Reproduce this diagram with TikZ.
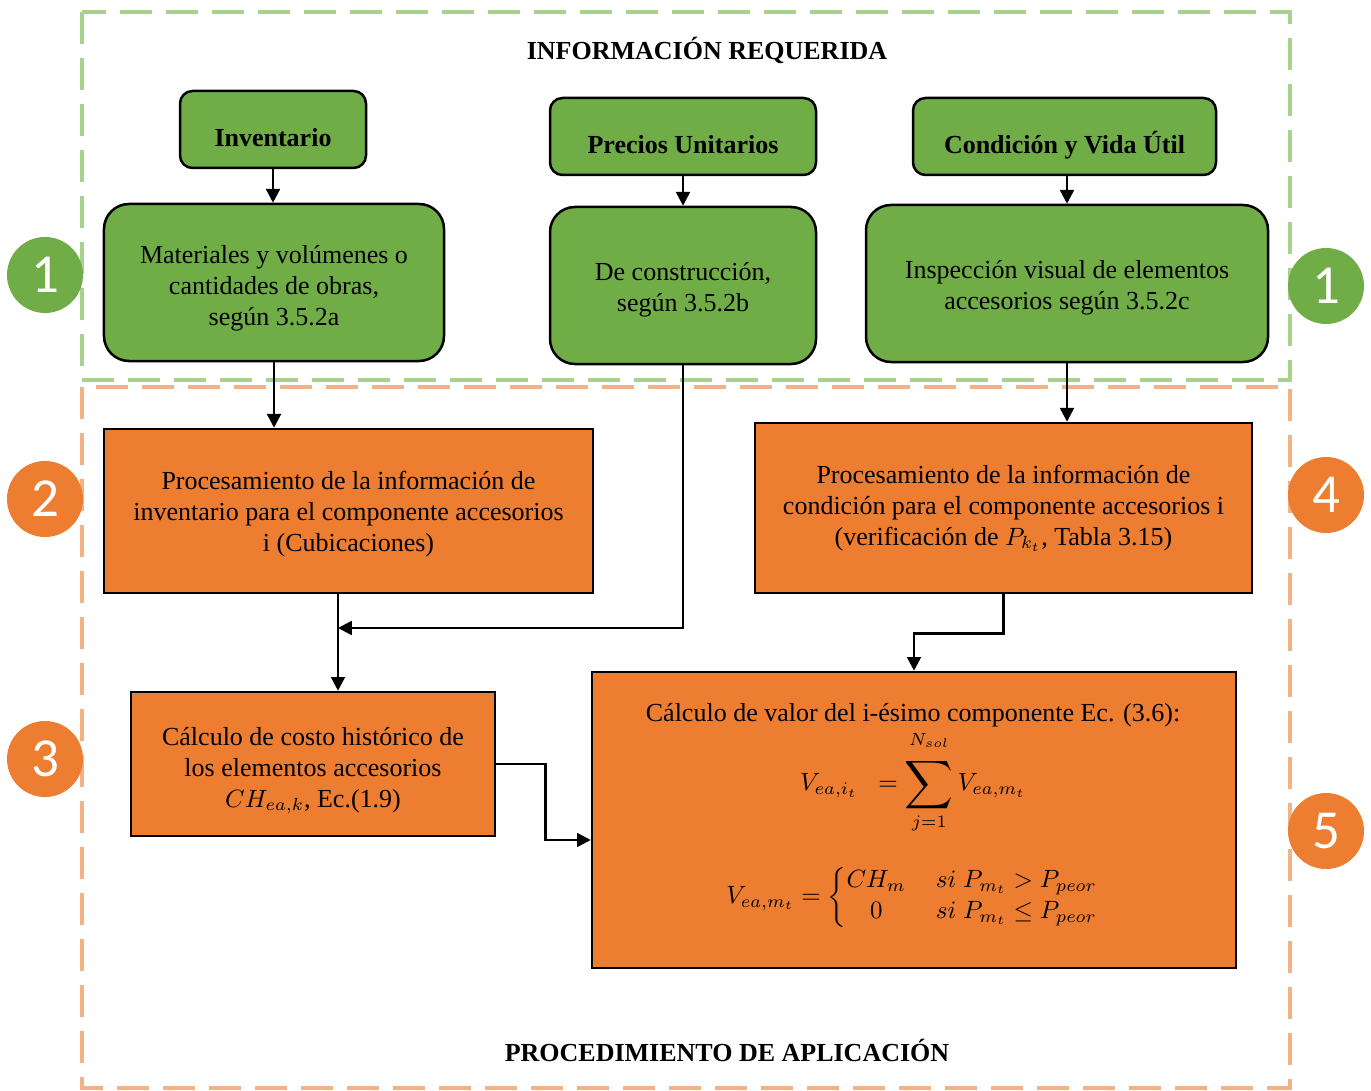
\documentclass[tikz,border=0pt]{standalone}
\usepackage{amsmath}
\usepackage{graphicx}
\usepackage{fontspec}
\setmainfont{Liberation Serif}
\newfontfamily\digitfont{Carlito}
\usetikzlibrary{arrows.meta,calc}

\definecolor{boxgreen}{HTML}{70AD47}
\definecolor{boxorange}{HTML}{ED7D31}
\definecolor{framegreen}{HTML}{A9D18E}
\definecolor{frameorange}{HTML}{F4B183}

\newcommand{\txtsize}{\fontsize{10.4}{12.4}\selectfont}

\tikzset{
  every node/.style={font=\txtsize},
  greenhead/.style={draw=black, line width=1pt, fill=boxgreen, rounded corners=5pt,
    inner sep=2pt, font=\bfseries\txtsize},
  greenbox/.style={draw=black, line width=1pt, fill=boxgreen, rounded corners=10pt,
    align=center, inner sep=2pt},
  orangebox/.style={draw=black, line width=1pt, fill=boxorange, align=center, inner sep=2pt},
  arr/.style={line width=1pt, -{Triangle[length=5.5pt,width=5.5pt]}},
  frameline/.style={line width=1.3pt, dash pattern=on 12.8pt off 5.6pt},
  stepnum/.style={circle, minimum size=30.4pt, inner sep=0pt, text=white,
    font=\digitfont\fontsize{22}{22}\selectfont},
  sectiontitle/.style={font=\bfseries\txtsize}
}

% text lowered inside its box without changing the box size
\newcommand{\lowered}[2]{\raisebox{-#1}[\height][\depth]{\begin{tabular}{@{}c@{}}#2\end{tabular}}}

\begin{document}
\begin{tikzpicture}[x=0.4pt, y=-0.4pt]
  \useasboundingbox (0,0) rectangle (1371,1091);

  % dashed section frames
  \draw[frameline, framegreen] (82,12) rectangle (1290,380);
  \draw[frameline, frameorange] (82,387) rectangle (1290,1088);

  \node[sectiontitle] (titleinfo) at (707,50) {INFORMACIÓN REQUERIDA};
  \node[sectiontitle] (titleproc) at (727,1050) {PROCEDIMIENTO DE APLICACIÓN};

  % step numbers
  \node[stepnum, fill=boxgreen] (n1l) at (45,275) {1};
  \node[stepnum, fill=boxgreen] (n1r) at (1326,286) {1};
  \node[stepnum, fill=boxorange] (n2) at (45,499) {2};
  \node[stepnum, fill=boxorange] (n3) at (45,759) {3};
  \node[stepnum, fill=boxorange] (n4) at (1326,495) {4};
  \node[stepnum, fill=boxorange] (n5) at (1326,831) {5};

  % required information
  \node[greenhead, minimum width=74.4pt, minimum height=30.8pt] (inv) at (273,129.5)
    {\lowered{4.4pt}{Inventario}};
  \node[greenhead, minimum width=106.4pt, minimum height=30.8pt] (prec) at (683,136.5)
    {\lowered{4.4pt}{Precios Unitarios}};
  \node[greenhead, minimum width=121.2pt, minimum height=30.8pt] (cond) at (1064.5,136.5)
    {\lowered{4.4pt}{Condición y Vida Útil}};

  \node[greenbox, minimum width=136pt, minimum height=62.8pt] (mat) at (274,282.5)
    {\lowered{2.4pt}{Materiales y volúmenes o\\cantidades de obras,\\según 3.5.2a}};
  \node[greenbox, minimum width=106.4pt, minimum height=62.8pt] (constr) at (683,285.5)
    {\lowered{1.6pt}{De construcción,\\según 3.5.2b}};
  \node[greenbox, minimum width=160.8pt, minimum height=62.8pt] (insp) at (1067,283.5)
    {\lowered{1.6pt}{Inspección visual de elementos\\accesorios según 3.5.2c}};

  % application procedure
  \node[orangebox, minimum width=195.6pt, minimum height=65.6pt] (pinv) at (348.5,511)
    {\lowered{1.2pt}{Procesamiento de la información de\\inventario para el componente accesorios\\i (Cubicaciones)}};
  \node[orangebox, minimum width=198.8pt, minimum height=68pt] (pcond) at (1003.5,508)
    {Procesamiento de la información de\\condición para el componente accesorios i\\(verificación de $P_{k_t}$, Tabla 3.15)};
  \node[orangebox, minimum width=145.6pt, minimum height=57.6pt] (costo) at (313,764)
    {\lowered{2.4pt}{Cálculo de costo histórico de\\los elementos accesorios\\$CH_{ea,k}$, Ec.(1.9)}};
  \node[orangebox, minimum width=257.6pt, minimum height=118.4pt] (calc) at (914,820) {};

  \node (calctitle) at (913,715) {Cálculo de valor del i-ésimo componente Ec. (3.6):};
  \node (eqsum) at (913,782)
    {$V_{ea,i_t}\;\;=\mathop{\vcenter{\hbox{\scalebox{1.35}{$\displaystyle\sum$}}}}\limits_{j=1}^{\raisebox{3pt}{$\scriptstyle N_{sol}$}} V_{ea,m_t}$};
  \node (eqcase) at (913,897)
    {$V_{ea,m_t}=\left\{\begin{array}{@{}c@{\hspace{12pt}}l@{}}
        CH_m & si\;P_{m_t} > P_{peor}\\
        0 & si\;P_{m_t} \le P_{peor}
      \end{array}\right.$};

  % connectors
  \coordinate (join) at (338,628);
  \draw[arr] (inv.south) -- (inv.south |- mat.north);
  \draw[arr] (prec.south) -- (constr.north);
  \draw[arr] (insp.north |- cond.south) -- (insp.north);
  \draw[arr] (mat.south) -- (mat.south |- pinv.north);
  \draw[arr] (insp.south) -- (insp.south |- pcond.north);
  \draw[arr] (constr.south) |- (join);
  \draw[arr] (join |- pinv.south) -- (join |- costo.north);
  \draw[arr] (pcond.south) -- ++(0,39) -| (calc.north);
  \draw[arr] (costo.east) -- ++(49,0) |- ([yshift=-8pt]calc.west);
\end{tikzpicture}
\end{document}
